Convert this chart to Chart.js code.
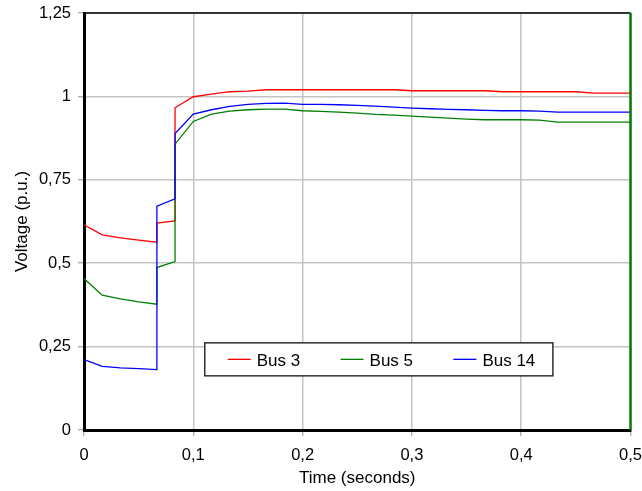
<!DOCTYPE html>
<html>
<head>
<meta charset="utf-8">
<script src="https://cdn.jsdelivr.net/npm/chart.js@4.4.1/dist/chart.umd.min.js"></script>
<style>
  html, body { margin: 0; padding: 0; background: #ffffff; }
  #wrap { width: 642px; height: 491px; }
</style>
</head>
<body>
<div id="wrap"><canvas id="c" width="642" height="491"></canvas></div>
<script>
// ---- Data ----
const timeSec = [0, 0.0167, 0.0333, 0.05, 0.0667, 0.0667, 0.0833, 0.0833,
  0.1, 0.1167, 0.1333, 0.15, 0.1667, 0.1833, 0.2, 0.2167, 0.2333, 0.25,
  0.2667, 0.2833, 0.3, 0.3167, 0.3333, 0.35, 0.3667, 0.3833, 0.4, 0.4167,
  0.4333, 0.45, 0.4667, 0.4833, 0.5];

const bus3 = [0.615, 0.585, 0.576, 0.569, 0.563, 0.620, 0.627, 0.966,
  0.999, 1.007, 1.014, 1.016, 1.020, 1.020, 1.020, 1.020, 1.020, 1.020,
  1.020, 1.020, 1.017, 1.017, 1.017, 1.017, 1.017, 1.014, 1.014, 1.014,
  1.014, 1.014, 1.010, 1.010, 1.010];

const bus5 = [0.454, 0.404, 0.393, 0.384, 0.377, 0.487, 0.505, 0.857,
  0.925, 0.947, 0.956, 0.960, 0.962, 0.962, 0.957, 0.955, 0.953, 0.950,
  0.946, 0.944, 0.941, 0.938, 0.935, 0.932, 0.930, 0.930, 0.930, 0.929,
  0.923, 0.923, 0.923, 0.923, 0.923];

const bus14 = [0.211, 0.191, 0.186, 0.184, 0.181, 0.671, 0.693, 0.889,
  0.947, 0.960, 0.970, 0.976, 0.979, 0.980, 0.976, 0.976, 0.975, 0.973,
  0.971, 0.968, 0.965, 0.963, 0.961, 0.960, 0.958, 0.957, 0.957, 0.956,
  0.953, 0.953, 0.953, 0.953, 0.953];

const seriesNames = ['Bus 3', 'Bus 5', 'Bus 14'];
const seriesColors = ['#ff0000', '#008000', '#0000ff'];

const xTickLabels = ['0', '0,1', '0,2', '0,3', '0,4', '0,5'];
const yTickLabels = ['0', '0,25', '0,5', '0,75', '1', '1,25'];
const xTitle = 'Time (seconds)';
const yTitle = 'Voltage (p.u.)';

// ---- Build datasets ----
function pts(vals) { return timeSec.map((t, i) => ({ x: t, y: vals[i] })); }
const seriesValues = [bus3, bus5, bus14];

const datasets = seriesValues.map((vals, i) => ({
  label: seriesNames[i],
  data: pts(vals),
  borderColor: seriesColors[i],
  backgroundColor: seriesColors[i],
  borderWidth: 1.3,
  pointRadius: 0,
  tension: 0,
  fill: false,
  order: seriesValues.length - i
}));

const FONT = '"Liberation Sans", Arial, sans-serif';

// frame plugin: top border black, right border green
const framePlugin = {
  id: 'frame',
  afterDatasetsDraw(chart) {
    const { ctx, chartArea: a } = chart;
    ctx.save();
    ctx.strokeStyle = '#000000';
    ctx.lineWidth = 1.6;
    ctx.beginPath();
    ctx.moveTo(a.left, a.top);
    ctx.lineTo(a.right, a.top);
    ctx.stroke();
    ctx.strokeStyle = '#008000';
    ctx.lineWidth = 2.5;
    ctx.beginPath();
    ctx.moveTo(a.right, a.top);
    ctx.lineTo(a.right, a.bottom);
    ctx.stroke();
    ctx.restore();
  }
};

// boxed legend inside the plot area
const boxLegend = {
  id: 'boxLegend',
  afterDraw(chart) {
    const { ctx, chartArea: a } = chart;
    const w = a.right - a.left, h = a.bottom - a.top;
    const bx = a.left + w * 0.221, by = a.top + h * 0.791;
    const bw = w * 0.637, bh = 33;
    ctx.save();
    ctx.fillStyle = '#ffffff';
    ctx.fillRect(bx, by, bw, bh);
    ctx.strokeStyle = '#202020';
    ctx.lineWidth = 1.4;
    ctx.strokeRect(bx, by, bw, bh);
    ctx.font = '17px ' + FONT;
    ctx.textBaseline = 'middle';
    ctx.textAlign = 'left';
    const cy = by + bh / 2 + 0.5;
    chart.data.datasets.forEach((ds, i) => {
      const sx = bx + 23 + i * 112.8;
      ctx.strokeStyle = ds.borderColor;
      ctx.lineWidth = 1.3;
      ctx.beginPath();
      ctx.moveTo(sx, cy - 0.5);
      ctx.lineTo(sx + 23, cy - 0.5);
      ctx.stroke();
      ctx.fillStyle = '#000000';
      ctx.fillText(ds.label, sx + 29, cy + 1);
    });
    ctx.restore();
  }
};

new Chart(document.getElementById('c'), {
  type: 'line',
  data: { datasets },
  options: {
    responsive: false,
    devicePixelRatio: 1,
    animation: false,
    layout: { padding: { top: 13, right: 11.5, left: 0, bottom: 0 } },
    plugins: {
      legend: { display: false },
      tooltip: { enabled: false }
    },
    scales: {
      x: {
        type: 'linear',
        min: 0, max: 0.5,
        afterFit(s) { s.height = 61; s.paddingLeft = 0; s.paddingRight = 0; },
        ticks: {
          stepSize: 0.1,
          autoSkip: false,
          maxRotation: 0,
          padding: 10,
          color: '#000000',
          font: { family: FONT, size: 16.5 },
          callback: (v, i) => xTickLabels[i]
        },
        grid: { color: '#c4c4c4', lineWidth: 1.5, tickLength: 6, tickColor: '#a0a0a0', tickWidth: 1.2 },
        border: { color: '#000000', width: 3 },
        title: { display: true, text: xTitle, color: '#000000', font: { family: FONT, size: 17 }, padding: { top: 0, bottom: 2 } }
      },
      y: {
        type: 'linear',
        min: 0, max: 1.25,
        afterFit(s) { s.width = 84; s.paddingTop = 0; s.paddingBottom = 0; },
        ticks: {
          stepSize: 0.25,
          autoSkip: false,
          padding: 7,
          color: '#000000',
          font: { family: FONT, size: 16.5 },
          callback: (v, i) => yTickLabels[i]
        },
        grid: { color: '#c4c4c4', lineWidth: 1.5, tickLength: 6, tickColor: '#a0a0a0', tickWidth: 1.2 },
        border: { color: '#000000', width: 3 },
        title: { display: true, text: yTitle, color: '#000000', font: { family: FONT, size: 17 }, padding: { top: 12, bottom: 0 } }
      }
    }
  },
  plugins: [framePlugin, boxLegend]
});
</script>
</body>
</html>
